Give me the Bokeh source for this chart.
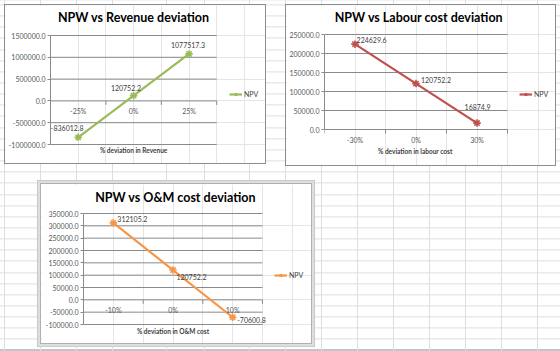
from bokeh.plotting import figure
from bokeh.models import (Range1d, LinearAxis, FixedTicker, NumeralTickFormatter, Label,
                          LabelSet, ColumnDataSource, Spacer, Legend, LegendItem)
from bokeh.layouts import row, column
from bokeh.core.properties import value
from bokeh.embed import file_html
from bokeh.resources import INLINE

# ---- data ----------------------------------------------------------------
rev_cats = ["-25%", "0%", "25%"]
rev_npv = [-836012.8, 120752.2, 1077517.3]
rev_yticks = [-1000000, -500000, 0, 500000, 1000000, 1500000]

lab_cats = ["-30%", "0%", "30%"]
lab_npv = [224629.6, 120752.2, 16874.9]
lab_yticks = [0, 50000, 100000, 150000, 200000, 250000]

om_cats = ["-10%", "0%", "10%"]
om_npv = [312105.2, 120752.2, -70600.8]
om_yticks = [-100000, -50000, 0, 50000, 100000, 150000, 200000, 250000, 300000, 350000]

FONT = "Lato"
TICK_COLOR = "#595959"
TEXT_COLOR = "#404040"
LINE_GRAY = "#8a8a8a"


def make_chart(cats, vals, yticks, color, title, xtitle, size, plot_box,
               title_shift, xtitle_dy, legend_loc, lbl_dx, lbl_dy, lbl_align, shadow):
    """One Excel-style line chart.  plot_box = (left, top, right, bottom) of the
    value area in pixels; the frame spans the whole chart so that titles, legend
    and data labels can sit anywhere inside it."""
    w, h = size
    left, top, right, bottom = plot_box
    n = len(cats)
    positions = list(range(n))
    bounds = [i - 0.5 for i in range(n + 1)]

    y_per_px = (yticks[-1] - yticks[0]) / (bottom - top)
    x_per_px = n / (right - left)
    p = figure(width=w, height=h, output_backend="svg", toolbar_location=None,
               x_range=Range1d(-0.5, -0.5 + (w - left) * x_per_px),
               y_range=Range1d(yticks[0] - (h - bottom) * y_per_px,
                               yticks[-1] + top * y_per_px),
               x_axis_location=None, y_axis_location=None,
               min_border_left=left, min_border_right=0,
               min_border_top=0, min_border_bottom=0,
               background_fill_color="white", border_fill_color="white",
               styles={"box-shadow": shadow})
    p.title.visible = False
    p.outline_line_color = None

    # value axis
    yax = LinearAxis(ticker=FixedTicker(ticks=yticks), bounds=(yticks[0], yticks[-1]),
                     formatter=NumeralTickFormatter(format="0.0"),
                     major_tick_out=3, major_tick_in=0, minor_tick_line_color=None,
                     major_label_standoff=2, axis_line_color=LINE_GRAY,
                     major_tick_line_color=LINE_GRAY,
                     major_label_text_font=FONT, major_label_text_font_size="7px",
                     major_label_text_color=TICK_COLOR)
    p.add_layout(yax, "left")

    # horizontal gridlines across the category area
    p.segment(x0=[bounds[0]] * len(yticks), x1=[bounds[-1]] * len(yticks),
              y0=yticks, y1=yticks, line_color=LINE_GRAY, line_width=1)

    # category labels and separator ticks on the zero line
    p.ray(x=bounds, y=[0] * len(bounds), length=4, length_units="screen",
          angle=-90, angle_units="deg", line_color=LINE_GRAY, line_width=1)
    csrc = ColumnDataSource(dict(x=positions, y=[0] * n, label=cats))
    p.add_layout(LabelSet(x="x", y="y", text="label", y_offset=-10, source=csrc,
                          text_font=value(FONT), text_font_size="7px",
                          text_color=TICK_COLOR, text_align="center",
                          text_baseline="middle"))

    # series
    line = p.line(positions, vals, line_color=color, line_width=2.2)
    dots = p.scatter(positions, vals, marker="asterisk", size=7.5, line_color=color,
                     line_width=1.6)

    src = ColumnDataSource(dict(x=positions, y=vals, label=[f"{v:.1f}" for v in vals],
                                dx=lbl_dx, dy=lbl_dy))
    p.add_layout(LabelSet(x="x", y="y", text="label", x_offset="dx", y_offset="dy",
                          source=src, text_font=value(FONT), text_font_size="7px",
                          text_color=TEXT_COLOR, text_align=lbl_align,
                          text_baseline="middle"))

    mid = (n - 1) / 2
    p.add_layout(Label(x=mid, y=yticks[-1], x_offset=title_shift[0],
                       y_offset=title_shift[1], text=title, text_font=FONT,
                       text_font_style="bold", text_font_size="12.5px",
                       text_color="black", text_align="center",
                       text_baseline="middle"))
    p.add_layout(Label(x=mid, y=yticks[0], y_offset=xtitle_dy, text=xtitle,
                       text_font=FONT, text_font_style="bold",
                       text_font_size="6.5px", text_color=TEXT_COLOR,
                       text_align="center", text_baseline="middle"))

    leg = Legend(items=[LegendItem(label="NPV", renderers=[line, dots])],
                 location=legend_loc, margin=0, padding=0, spacing=0,
                 border_line_color=None, background_fill_alpha=0,
                 glyph_width=13, glyph_height=8, label_height=8, label_standoff=2,
                 label_text_font=FONT, label_text_font_size="7px",
                 label_text_color=TEXT_COLOR)
    p.add_layout(leg)
    return p


chart_border = "0 0 0 1px #8d8d8d"
selected_border = "0 0 0 1px #b0b0b0, 0 0 0 3px #dedede, 0 0 0 4px #cacaca"

p1 = make_chart(rev_cats, rev_npv, rev_yticks, "#9bbb59",
                "NPW vs Revenue deviation", "% deviation in Revenue",
                (260, 158), (44, 30, 211, 139), (0, 18), -5.5, (179, 65),
                [-11, -7.7, -1], [9.3, 8, 9.2], "center", chart_border)
p2 = make_chart(lab_cats, lab_npv, lab_yticks, "#c0504d",
                "NPW vs Labour cost deviation", "% deviation in labour  cost",
                (269, 160), (38, 29, 221, 124), (3, 17.3), -21.7, (195, 67),
                [1.6, 5, -12.4], [4.4, 3.3, 15.6], "left", chart_border)
p3 = make_chart(om_cats, om_npv, om_yticks, "#f79646",
                "NPW vs O&M cost deviation", "% deviation in O&M cost",
                (270, 159), (42, 29, 221, 140), (2.5, 16.3), -7, (191, 64),
                [4, 3.4, 4.6], [4, -7.4, -3], "left", selected_border)

# spreadsheet cell grid behind the charts
cell_line = "#dcdee1"
sheet_cols = [4, 40, 76, 112, 166, 204, 249, 285, 321, 357, 393, 429, 465, 501, 537]
imgs, pos, sizes, reps = [], [], [], []
for xv in sheet_cols:
    imgs.append(f"linear-gradient({cell_line}, {cell_line})")
    pos.append(f"{xv}px 0px")
    sizes.append("1px 100%")
    reps.append("no-repeat")
imgs.append("linear-gradient(#c4c4c4, #c4c4c4)")
pos.append("0px 349px")
sizes.append("100% 2px")
reps.append("no-repeat")
imgs.append(f"repeating-linear-gradient(to bottom, {cell_line} 0px, {cell_line} 1px, "
            f"transparent 1px, transparent 11.15px)")
pos.append("0px 4.4px")
sizes.append("100% 100%")
reps.append("repeat")
sheet_style = {
    "background-color": "white",
    "background-image": ", ".join(imgs),
    "background-position": ", ".join(pos),
    "background-size": ", ".join(sizes),
    "background-repeat": ", ".join(reps),
}

layout = column(
    Spacer(width=560, height=5),
    row(Spacer(width=5, height=10), p1, Spacer(width=21, height=10), p2),
    Spacer(width=560, height=19),
    row(Spacer(width=41, height=10), p3),
    width=560, height=351, styles=sheet_style,
)

open("out.html", "w").write(file_html(layout, INLINE))
